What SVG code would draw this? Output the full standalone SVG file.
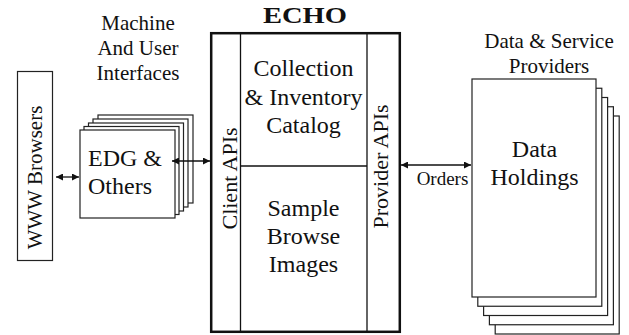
<svg xmlns="http://www.w3.org/2000/svg" width="629" height="335" viewBox="0 0 629 335">
<style>
text{font-family:"Liberation Serif","Times New Roman",serif;fill:#111;}
.box{fill:#fff;stroke:#222;stroke-width:1.2;}
.lbl{font-size:21px;text-anchor:middle;}
.big{font-size:24px;text-anchor:middle;}
.line{stroke:#111;stroke-width:1.3;fill:none;}
</style>
<defs>
<marker id="ah" viewBox="0 0 10 10" refX="10" refY="5" markerWidth="7" markerHeight="7" markerUnits="userSpaceOnUse" orient="auto-start-reverse">
<path d="M0,0 L10,5 L0,10 z" fill="#111"/>
</marker>
</defs>

<g id="label-machine">
<text class="lbl" x="138" y="30">Machine</text>
<text class="lbl" x="138" y="55">And User</text>
<text class="lbl" x="138" y="80">Interfaces</text>
</g>

<g id="www-browsers">
<rect class="box" x="17.5" y="71.5" width="35" height="189"/>
<text class="lbl" transform="translate(42,177.5) rotate(-90)" x="0" y="0">WWW Browsers</text>
</g>

<g id="edg-others">
<rect class="box" x="98" y="115" width="95" height="88"/>
<rect class="box" x="93" y="119" width="95" height="88"/>
<rect class="box" x="88.5" y="123" width="95" height="88"/>
<rect class="box" x="84" y="126.5" width="95" height="88"/>
<rect class="box" x="80" y="130" width="95" height="88"/>
<text style="font-size:24px" x="88" y="166">EDG &amp;</text>
<text style="font-size:24px" x="88" y="194">Others</text>
</g>

<g id="echo">
<text x="305" y="23" style="font-size:24px;font-weight:bold;text-anchor:middle" textLength="84" lengthAdjust="spacingAndGlyphs">ECHO</text>
<rect x="211.2" y="33.2" width="188.6" height="298.6" fill="#fff" stroke="#111" stroke-width="2.5"/>
<line class="line" x1="240.5" y1="34" x2="240.5" y2="331" stroke-width="1.1"/>
<line class="line" x1="367" y1="34" x2="367" y2="331" stroke-width="1.1"/>
<line class="line" x1="240.5" y1="166" x2="367" y2="166" stroke-width="1.1"/>
<text class="big" x="303.5" y="76">Collection</text>
<text class="big" x="303.5" y="104.5">&amp; Inventory</text>
<text class="big" x="303.5" y="133">Catalog</text>
<text class="big" x="303.5" y="216">Sample</text>
<text class="big" x="303.5" y="244">Browse</text>
<text class="big" x="303.5" y="272">Images</text>
<text class="big" style="font-size:22px" transform="translate(237,178.5) rotate(-90)">Client APIs</text>
<text class="big" style="font-size:22px" transform="translate(388,166.5) rotate(-90)">Provider APIs</text>
</g>

<g id="label-providers">
<text class="lbl" x="549" y="48">Data &amp; Service</text>
<text class="lbl" x="549" y="73">Providers</text>
</g>

<g id="data-holdings">
<rect class="box" x="495.2" y="116" width="124" height="218"/>
<rect class="box" x="489.4" y="106.75" width="124" height="218"/>
<rect class="box" x="483.6" y="97.5" width="124" height="218"/>
<rect class="box" x="477.8" y="88.25" width="124" height="218"/>
<rect class="box" x="472" y="79" width="124" height="218"/>
<text class="big" x="534.5" y="157">Data</text>
<text class="big" x="534.5" y="185">Holdings</text>
</g>

<g id="connectors">
<line class="line" x1="56" y1="177" x2="79" y2="177" marker-start="url(#ah)" marker-end="url(#ah)"/>
<line class="line" x1="172" y1="161" x2="210" y2="161" marker-start="url(#ah)" marker-end="url(#ah)"/>
<line class="line" x1="401" y1="165" x2="471" y2="165" marker-start="url(#ah)" marker-end="url(#ah)"/>
<text style="font-size:19px;text-anchor:middle" x="442.5" y="185">Orders</text>
</g>
</svg>
